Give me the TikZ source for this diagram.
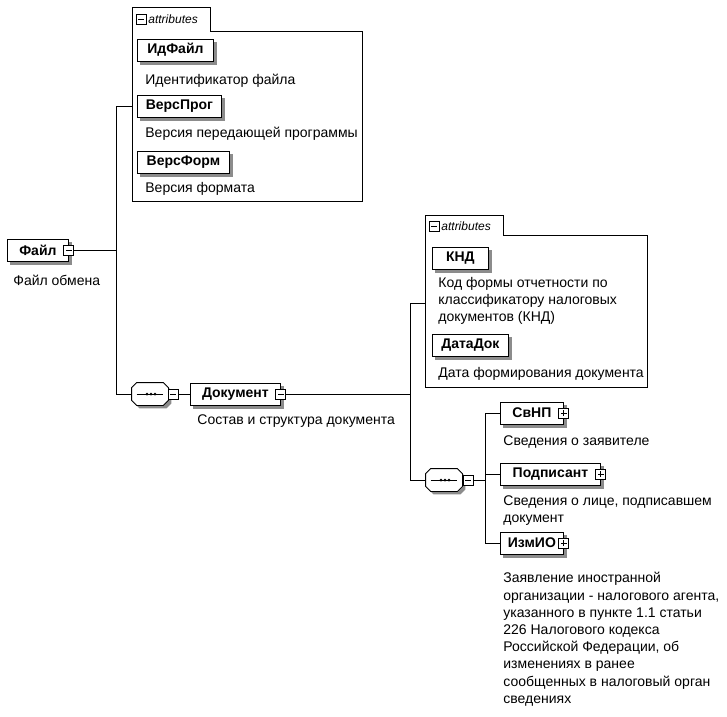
\documentclass[tikz,border=0pt]{standalone}
\usepackage{fontspec}
\setmainfont{Liberation Sans}
\tikzset{
  every path/.style={line width=0.8pt},
  elem/.style={draw,fill=white,anchor=west,font=\bfseries\fontsize{14}{16}\selectfont,
    minimum height=22pt,inner xsep=4pt},
  descr/.style={anchor=north west,align=left,inner sep=0pt,font=\fontsize{14}{17.2}\selectfont},
  tabtext/.style={anchor=west,inner sep=1pt,font=\itshape\fontsize{12}{14}\selectfont},
  minusbox/.style={draw,fill=white,minimum size=10pt,inner sep=0pt,
    path picture={\draw ([xshift=2pt]path picture bounding box.west) -- ([xshift=-2pt]path picture bounding box.east);}},
  plusbox/.style={draw,fill=white,minimum size=10pt,inner sep=0pt,
    path picture={\draw ([xshift=2pt]path picture bounding box.west) -- ([xshift=-2pt]path picture bounding box.east);
      \draw ([yshift=2pt]path picture bounding box.south) -- ([yshift=-2pt]path picture bounding box.north);}},
  seqframe/.style={minimum width=36pt,minimum height=22pt,inner sep=0pt},
  shadowfill/.style={fill=black!45,draw=none},
}
% octagon round a node: node, x shift, y shift down
\newcommand\octpath[3]{([xshift=5pt+#2,yshift=-#3]#1.north west) -- ([xshift=-5pt+#2,yshift=-#3]#1.north east)
  -- ([xshift=#2,yshift=-5pt-#3]#1.north east) -- ([xshift=#2,yshift=5pt-#3]#1.south east)
  -- ([xshift=-5pt+#2,yshift=-#3]#1.south east) -- ([xshift=5pt+#2,yshift=-#3]#1.south west)
  -- ([xshift=#2,yshift=5pt-#3]#1.south west) -- ([xshift=#2,yshift=-5pt-#3]#1.north west) -- cycle}
\newcommand\seqgroup[2]{%
  \node[seqframe] (#1) at (#2) {};
  \fill[shadowfill] \octpath{#1}{3pt}{3pt};
  \draw[fill=white] \octpath{#1}{0pt}{0pt};
  \draw ([xshift=5pt]#1.west) -- ([xshift=-5pt]#1.east);
  \foreach \d in {-3,1,5} \fill ([xshift=\d pt]#1.center) circle (1.5pt);
}
\begin{document}
\begin{tikzpicture}[x=1pt,y=-1pt]
\useasboundingbox (0,0) rectangle (727,716);

% attributes of the file
\draw (132,201) -- (132,7) -- (210,7) -- (210,31) -- (362,31) -- (362,201) -- cycle;
\node[minusbox] (a1icon) at (141,19) {};
\node[tabtext] (a1tab) at (147,19) {attributes};
\node[elem,minimum width=76pt] (idfile) at (137,50) {ИдФайл};
\node[descr] (idfiletxt) at (145,74) {Идентификатор файла};
\node[elem,minimum width=84pt] (versprog) at (137,106) {ВерсПрог};
\node[descr] (versprogtxt) at (145,127) {Версия передающей программы};
\node[elem,minimum width=92pt] (versform) at (137,162) {ВерсФорм};
\node[descr] (versformtxt) at (145,182) {Версия формата};

% root
\node[elem,minimum width=61pt] (file) at (7,250) {Файл};
\node[descr] (filetxt) at (13,275) {Файл обмена};

% document
\seqgroup{seq1}{150,394}
\node[minusbox] (seq1icon) at (173,394) {};
\node[elem,minimum width=90pt] (doc) at (190,394) {Документ};
\node[descr] (doctxt) at (197,414) {Состав и структура документа};

% attributes of the document
\draw (425,387) -- (425,215) -- (503,215) -- (503,235) -- (647,235) -- (647,387) -- cycle;
\node[minusbox] (a2icon) at (434,226) {};
\node[tabtext] (a2tab) at (440,226) {attributes};
\node[elem,minimum width=56pt] (knd) at (432,258) {КНД};
\node[descr] (kndtxt) at (438,277) {Код формы отчетности по\\классификатору налоговых\\документов (КНД)};
\node[elem,minimum width=76pt] (datadok) at (432,345) {ДатаДок};
\node[descr] (datadoktxt) at (438,367) {Дата формирования документа};

% children of the document
\seqgroup{seq2}{444,480}
\node[minusbox] (seq2icon) at (468,480) {};
\node[elem,minimum width=63pt] (svnp) at (500,413) {СвНП};
\node[descr] (svnptxt) at (503,435) {Сведения о заявителе};
\node[elem,minimum width=100pt] (podp) at (500,474) {Подписант};
\node[descr] (podptxt) at (503,495) {Сведения о лице, подписавшем\\документ};
\node[elem,minimum width=63pt] (izmio) at (500,543) {ИзмИО};
\node[descr] (izmiotxt) at (503,572) {Заявление иностранной\\организации - налогового агента,\\указанного в пункте 1.1 статьи\\226 Налогового кодекса\\Российской Федерации, об\\изменениях в ранее\\сообщенных в налоговый орган\\сведениях};

% shadows
\foreach \n in {file,idfile,versprog,versform,doc,knd,datadok,svnp,podp,izmio}
{
  \fill[shadowfill] ([xshift=0.5pt,yshift=-3pt]\n.north east) rectangle ([xshift=3.5pt,yshift=-0.5pt]\n.south east);
  \fill[shadowfill] ([xshift=3pt,yshift=-0.5pt]\n.south west) rectangle ([xshift=3.5pt,yshift=-3.5pt]\n.south east);
}

% expand icons
\node[minusbox] (fileicon) at (file.east) {};
\node[minusbox] (docicon) at (doc.east) {};
\node[plusbox] (svnpicon) at (svnp.east) {};
\node[plusbox] (podpicon) at (podp.east) {};
\node[plusbox] (izmioicon) at (izmio.east) {};

% connectors
\coordinate (j1) at (116,250);
\coordinate (a1in) at (132,106);
\draw (fileicon) -- (j1) |- (a1in);
\draw (j1) |- (seq1);
\draw (seq1icon) -- (doc);
\coordinate (j2) at (410,394);
\coordinate (a2in) at (425,303);
\draw (docicon) -- (j2) |- (a2in);
\draw (j2) |- (seq2);
\coordinate (j3) at (485,480);
\draw (seq2icon) -- (j3) |- (svnp);
\draw (j3) |- (podp);
\draw (j3) |- (izmio);
\end{tikzpicture}
\end{document}
